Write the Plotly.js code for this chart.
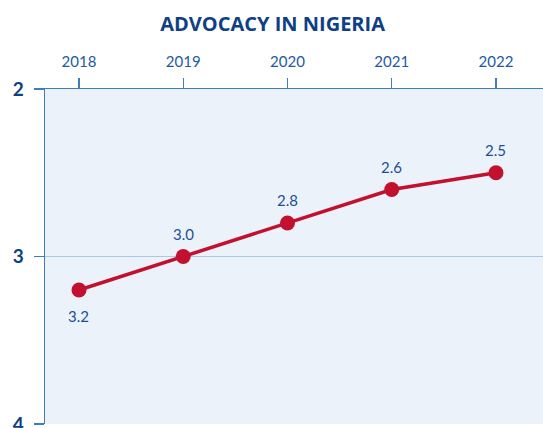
<!DOCTYPE html>
<html>
<head>
<meta charset="utf-8">
<script src="https://cdn.plot.ly/plotly-3.0.1.min.js"></script>
<style>html,body{margin:0;padding:0;background:#fff;}#chart{width:543px;height:428px;}</style>
</head>
<body>
<div id="chart"></div>
<script>
const years = [2018, 2019, 2020, 2021, 2022];
const values = [3.2, 3.0, 2.8, 2.6, 2.5];
const valueLabels = ['3.2', '3.0', '2.8', '2.6', '2.5'];
const labelAbove = [false, true, true, true, true];
const yTicks = [2, 3, 4];

const trace = {
  x: years,
  y: values,
  mode: 'lines+markers',
  line: {color: '#c2102f', width: 3.5},
  marker: {color: '#c2102f', size: 15},
  hoverinfo: 'skip',
  cliponaxis: false
};

const annotations = years.map((yr, i) => ({
  x: yr, y: values[i], xref: 'x', yref: 'y',
  text: valueLabels[i], showarrow: false,
  yshift: labelAbove[i] ? 23 : -26,
  font: {family: 'Lato, sans-serif', size: 15, color: '#1c4f95'}
}));

const layout = {
  width: 543,
  height: 428,
  margin: {l: 45, r: 0, t: 89, b: 4},
  paper_bgcolor: '#ffffff',
  plot_bgcolor: '#ecf2fa',
  showlegend: false,
  annotations: annotations,
  title: {
    text: '<b>ADVOCACY IN NIGERIA</b>',
    font: {family: '"Open Sans", sans-serif', size: 20, color: '#0f3f85'},
    x: 0.502, xanchor: 'center', y: 0.943, yanchor: 'middle'
  },
  xaxis: {
    side: 'top',
    range: [2017.674, 2022.451],
    tickvals: years,
    ticktext: years.map(String),
    ticks: 'outside', ticklen: 10, tickwidth: 1.2, tickcolor: '#3f7cc4',
    ticklabelstandoff: 5,
    showline: true, linecolor: '#3f7cc4', linewidth: 1.5,
    showgrid: false, zeroline: false,
    tickfont: {family: 'Lato, sans-serif', size: 15, color: '#1c5aa3'}
  },
  yaxis: {
    range: [4, 2],
    tickvals: yTicks,
    ticktext: yTicks.map(v => '<b>' + v + '</b>'),
    ticks: 'outside', ticklen: 10, tickwidth: 1.5, tickcolor: '#3f7cc4',
    ticklabelstandoff: 6,
    ticklabeloverflow: 'allow',
    showline: true, linecolor: '#3f7cc4', linewidth: 1.5,
    showgrid: true, gridcolor: '#a9c7e8', gridwidth: 1.5,
    zeroline: false,
    tickfont: {family: 'Lato, sans-serif', size: 19, color: '#0f3f85'}
  }
};

Plotly.newPlot('chart', [trace], layout, {displayModeBar: false, staticPlot: true});
</script>
</body>
</html>
